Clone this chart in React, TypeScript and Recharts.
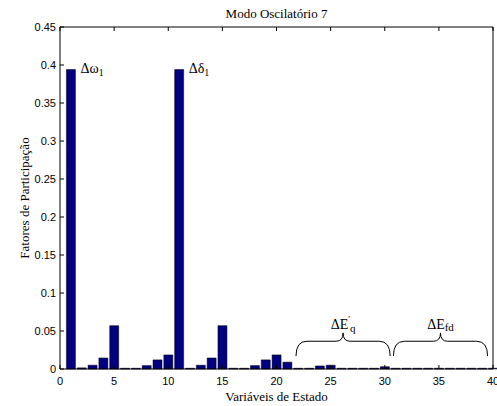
import React from "react";
import {
  BarChart,
  Bar,
  XAxis,
  YAxis,
  ReferenceArea,
  LabelList,
} from "recharts";

// state variable index and its participation factor (oscillatory mode 7)
const states = [
  1, 2, 3, 4, 5, 6, 7, 8, 9, 10, 11, 12, 13, 14, 15, 16, 17, 18, 19, 20, 21,
  22, 23, 24, 25, 26, 27, 28, 29, 30, 31, 32, 33, 34, 35, 36, 37, 38, 39, 40,
];
const factors = [
  0.394, 0.0015, 0.005, 0.0145, 0.057, 0.001, 0.001, 0.0045, 0.012, 0.0185,
  0.394, 0.001, 0.005, 0.0145, 0.057, 0.001, 0.001, 0.0045, 0.012, 0.0185,
  0.009, 0.001, 0.001, 0.004, 0.005, 0.001, 0.001, 0.001, 0.001, 0.003,
  0.001, 0.001, 0.001, 0.001, 0.001, 0.001, 0.001, 0.001, 0.001, 0.001,
];
const xTicks = [0, 5, 10, 15, 20, 25, 30, 35, 40];
const yTicks = [0, 0.05, 0.1, 0.15, 0.2, 0.25, 0.3, 0.35, 0.4, 0.45];

// groups marked with braces: [from, to, y bottom, y top]
const eqGroup = [21.8, 30.5, 0.017, 0.0475];
const efdGroup = [30.8, 39.5, 0.017, 0.0475];

const data = states.map((s, i) => ({ x: s, v: factors[i] }));

const SANS = "'Liberation Sans', Arial, sans-serif";
const SERIF = "'Liberation Serif', 'Times New Roman', serif";
const M = 4;
const TL = 4;

const XTick = (p: any) => (
  <g>
    <line x1={p.x} x2={p.x} y1={p.y - M} y2={p.y - M - TL} stroke="#000" />
    <text x={p.x} y={p.y + 12} textAnchor="middle" fontSize={11} fontFamily={SANS}>
      {p.payload.value}
    </text>
  </g>
);
const XTopTick = (p: any) => (
  <line x1={p.x} x2={p.x} y1={p.y} y2={p.y + TL} stroke="#000" />
);
const YTick = (p: any) => (
  <g>
    <line x1={p.x + M} x2={p.x + M + TL} y1={p.y} y2={p.y} stroke="#000" />
    <text x={p.x} y={p.y + 4} textAnchor="end" fontSize={11} fontFamily={SANS}>
      {p.payload.value}
    </text>
  </g>
);
const YRightTick = (p: any) => (
  <line x1={p.x} x2={p.x - TL} y1={p.y} y2={p.y} stroke="#000" />
);

function bracePath(x: number, y: number, w: number, h: number) {
  const m = y + h * 0.36;
  const r = 11;
  const r2 = 7;
  const cx = x + w / 2;
  return `M${x},${y + h} Q${x},${m} ${x + r},${m} L${cx - r2},${m} Q${cx},${m} ${cx},${y}
    Q${cx},${m} ${cx + r2},${m} L${x + w - r},${m} Q${x + w},${m} ${x + w},${y + h}`;
}

const Brace = (label: React.ReactNode) => (p: any) => (
  <g>
    <path d={bracePath(p.x, p.y, p.width, p.height)} fill="none" stroke="#000" strokeWidth={1} />
    <text x={p.x + p.width / 2} y={p.y - 4} textAnchor="middle" fontSize={14} fontFamily={SERIF}>
      {label}
    </text>
  </g>
);

const PeakLabel = (p: any) => {
  const names: Record<number, string> = { 0: "\u0394\u03c9", 10: "\u0394\u03b4" };
  const n = names[p.index];
  if (!n) return null;
  return (
    <text x={p.x + p.width + 5} y={p.y + 3} fontSize={14} fontFamily={SERIF}>
      {n}
      <tspan fontSize={10} dy={3}>1</tspan>
    </text>
  );
};

export default function App() {
  return (
    <div style={{ position: "absolute", left: 0, top: 0, background: "#fff" }}>
      <BarChart
        width={497}
        height={406}
        data={data}
        margin={{ top: 26, right: 3, bottom: 0, left: 0 }}
        barSize={9}
      >
        <XAxis
          dataKey="x"
          type="number"
          domain={[0, 40]}
          ticks={xTicks}
          interval={0}
          height={37}
          tickSize={0}
          tickMargin={M}
          tickLine={false}
          axisLine={{ stroke: "#000" }}
          tick={<XTick />}
          label={{
            content: (p: any) => (
              <text
                x={p.viewBox.x + p.viewBox.width / 2}
                y={p.viewBox.y + 32}
                textAnchor="middle"
                fontSize={13}
                fontFamily={SERIF}
              >
                Variáveis de Estado
              </text>
            ),
          }}
        />
        <XAxis
          xAxisId="top"
          orientation="top"
          dataKey="x"
          type="number"
          domain={[0, 40]}
          ticks={xTicks}
          interval={0}
          height={1}
          tickSize={0}
          tickMargin={0}
          tickLine={false}
          axisLine={{ stroke: "#000" }}
          tick={<XTopTick />}
          label={{
            content: (p: any) => (
              <text
                x={p.viewBox.x + p.viewBox.width / 2}
                y={18}
                textAnchor="middle"
                fontSize={13}
                fontFamily={SERIF}
              >
                Modo Oscilatório 7
              </text>
            ),
          }}
        />
        <YAxis
          type="number"
          domain={[0, 0.45]}
          ticks={yTicks}
          interval={0}
          width={60}
          tickSize={0}
          tickMargin={M}
          tickLine={false}
          axisLine={{ stroke: "#000" }}
          tick={<YTick />}
          label={{
            content: (p: any) => {
              const cx = 29;
              const cy = p.viewBox.y + p.viewBox.height / 2;
              return (
                <text
                  x={cx}
                  y={cy}
                  transform={`rotate(-90 ${cx} ${cy})`}
                  textAnchor="middle"
                  fontSize={13}
                  fontFamily={SERIF}
                >
                  Fatores de Participação
                </text>
              );
            },
          }}
        />
        <YAxis
          yAxisId="right"
          orientation="right"
          type="number"
          domain={[0, 0.45]}
          ticks={yTicks}
          interval={0}
          width={1}
          tickSize={0}
          tickMargin={0}
          tickLine={false}
          axisLine={{ stroke: "#000" }}
          tick={<YRightTick />}
        />
        <Bar
          dataKey="v"
          fill="#000080"
          stroke="#000"
          strokeWidth={0.5}
          isAnimationActive={false}
        >
          <LabelList dataKey="v" content={<PeakLabel />} />
        </Bar>
        <ReferenceArea
          x1={eqGroup[0]}
          x2={eqGroup[1]}
          y1={eqGroup[2]}
          y2={eqGroup[3]}
          shape={Brace(
            <>
              {"\u0394E"}
              <tspan fontSize={9} dy={-7}>'</tspan>
              <tspan fontSize={11} dy={10}>q</tspan>
            </>
          )}
        />
        <ReferenceArea
          x1={efdGroup[0]}
          x2={efdGroup[1]}
          y1={efdGroup[2]}
          y2={efdGroup[3]}
          shape={Brace(
            <>
              {"\u0394E"}
              <tspan fontSize={11} dy={2}>fd</tspan>
            </>
          )}
        />
      </BarChart>
    </div>
  );
}
